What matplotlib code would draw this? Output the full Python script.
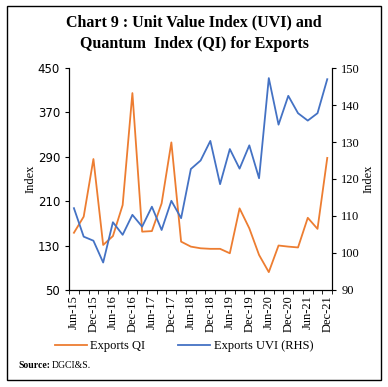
import matplotlib
matplotlib.use("Agg")
import matplotlib.pyplot as plt
import matplotlib.patches as patches
import numpy as np

quarters = ["Jun-15", "Sep-15", "Dec-15", "Mar-16", "Jun-16", "Sep-16", "Dec-16",
            "Mar-17", "Jun-17", "Sep-17", "Dec-17", "Mar-18", "Jun-18", "Sep-18",
            "Dec-18", "Mar-19", "Jun-19", "Sep-19", "Dec-19", "Mar-20", "Jun-20",
            "Sep-20", "Dec-20", "Mar-21", "Jun-21", "Sep-21", "Dec-21"]
qi = [153, 182, 286, 131, 147, 203, 405, 155, 156, 206, 316, 137, 128, 125,
      124, 124, 116, 197, 161, 113, 82, 130, 128, 126.5, 180, 160, 288]
uvi = [112.1, 104.4, 103.3, 97.4, 108.3, 104.9, 110.3, 107.1, 112.5, 106.2, 114.1,
       109.4, 122.7, 125.0, 130.3, 118.6, 128.1, 122.8, 129.1, 120.2, 147.3,
       134.7, 142.5, 137.8, 135.8, 137.8, 147.0]

orange = "#ED7D31"
blue = "#4472C4"
serif = "Liberation Serif"

fig = plt.figure(figsize=(3.88, 3.87), dpi=100)
ax = fig.add_axes([0.178, 0.251, 0.678, 0.573])
ax2 = ax.twinx()

x = np.arange(len(quarters))
l1, = ax.plot(x, qi, color=orange, lw=1.3, label="Exports QI")
l2, = ax2.plot(x, uvi, color=blue, lw=1.3, label="Exports UVI (RHS)")

ax.set_xlim(-0.5, len(quarters) - 0.5)
ax.set_ylim(50, 450)
ax.set_yticks([50, 130, 210, 290, 370, 450])
ax2.set_ylim(90, 150)
ax2.set_yticks([90, 100, 110, 120, 130, 140, 150])

ax.set_xticks(x[::2])
ax.set_xticklabels(quarters[::2], rotation=90, fontfamily=serif, fontsize=9)
ax.set_xticks(np.arange(-0.5, len(quarters), 1), minor=True)
ax.tick_params(axis="x", which="major", length=0, pad=4)
ax.tick_params(axis="x", which="minor", length=3, direction="out")
ax.tick_params(axis="y", labelsize=8.5, length=3)
ax2.tick_params(axis="y", labelsize=9, length=3)
for t in ax.get_yticklabels():
    t.set_fontfamily("DejaVu Sans")
for t in ax2.get_yticklabels():
    t.set_fontfamily(serif)

for a in (ax, ax2):
    a.spines["top"].set_visible(False)

ax.set_ylabel("Index", fontfamily=serif, fontsize=9, labelpad=1)
ax2.set_ylabel("Index", fontfamily=serif, fontsize=9, labelpad=2)

fig.legend(handles=[l1, l2], loc="center", bbox_to_anchor=(0.474, 1 - 346 / 387),
           ncol=2, frameon=False, prop={"family": serif, "size": 9},
           handlelength=2.6, columnspacing=2.6, handletextpad=0.25)

fig.text(0.5, 1 - 22 / 387, "Chart 9 : Unit Value Index (UVI) and",
         ha="center", va="center", fontfamily=serif, fontweight="bold", fontsize=11.5)
fig.text(0.5, 1 - 44 / 387, "Quantum  Index (QI) for Exports",
         ha="center", va="center", fontfamily=serif, fontweight="bold", fontsize=11.5)

src = fig.text(18 / 388, 1 - 366 / 387, "Source:", ha="left", va="center",
               fontfamily=serif, fontweight="bold", fontsize=7)
fig.canvas.draw()
bb = src.get_window_extent(renderer=fig.canvas.get_renderer())
fig.text((bb.x1 + 2) / (3.88 * 100), 1 - 366 / 387, "DGCI&S.", ha="left", va="center",
         fontfamily=serif, fontsize=7)

rect = patches.Rectangle((7 / 388, 1 - 380 / 387), 374 / 388, 374 / 387,
                         transform=fig.transFigure, fill=False, ec="black", lw=1)
fig.patches.append(rect)

fig.savefig("out.png", dpi=100)
